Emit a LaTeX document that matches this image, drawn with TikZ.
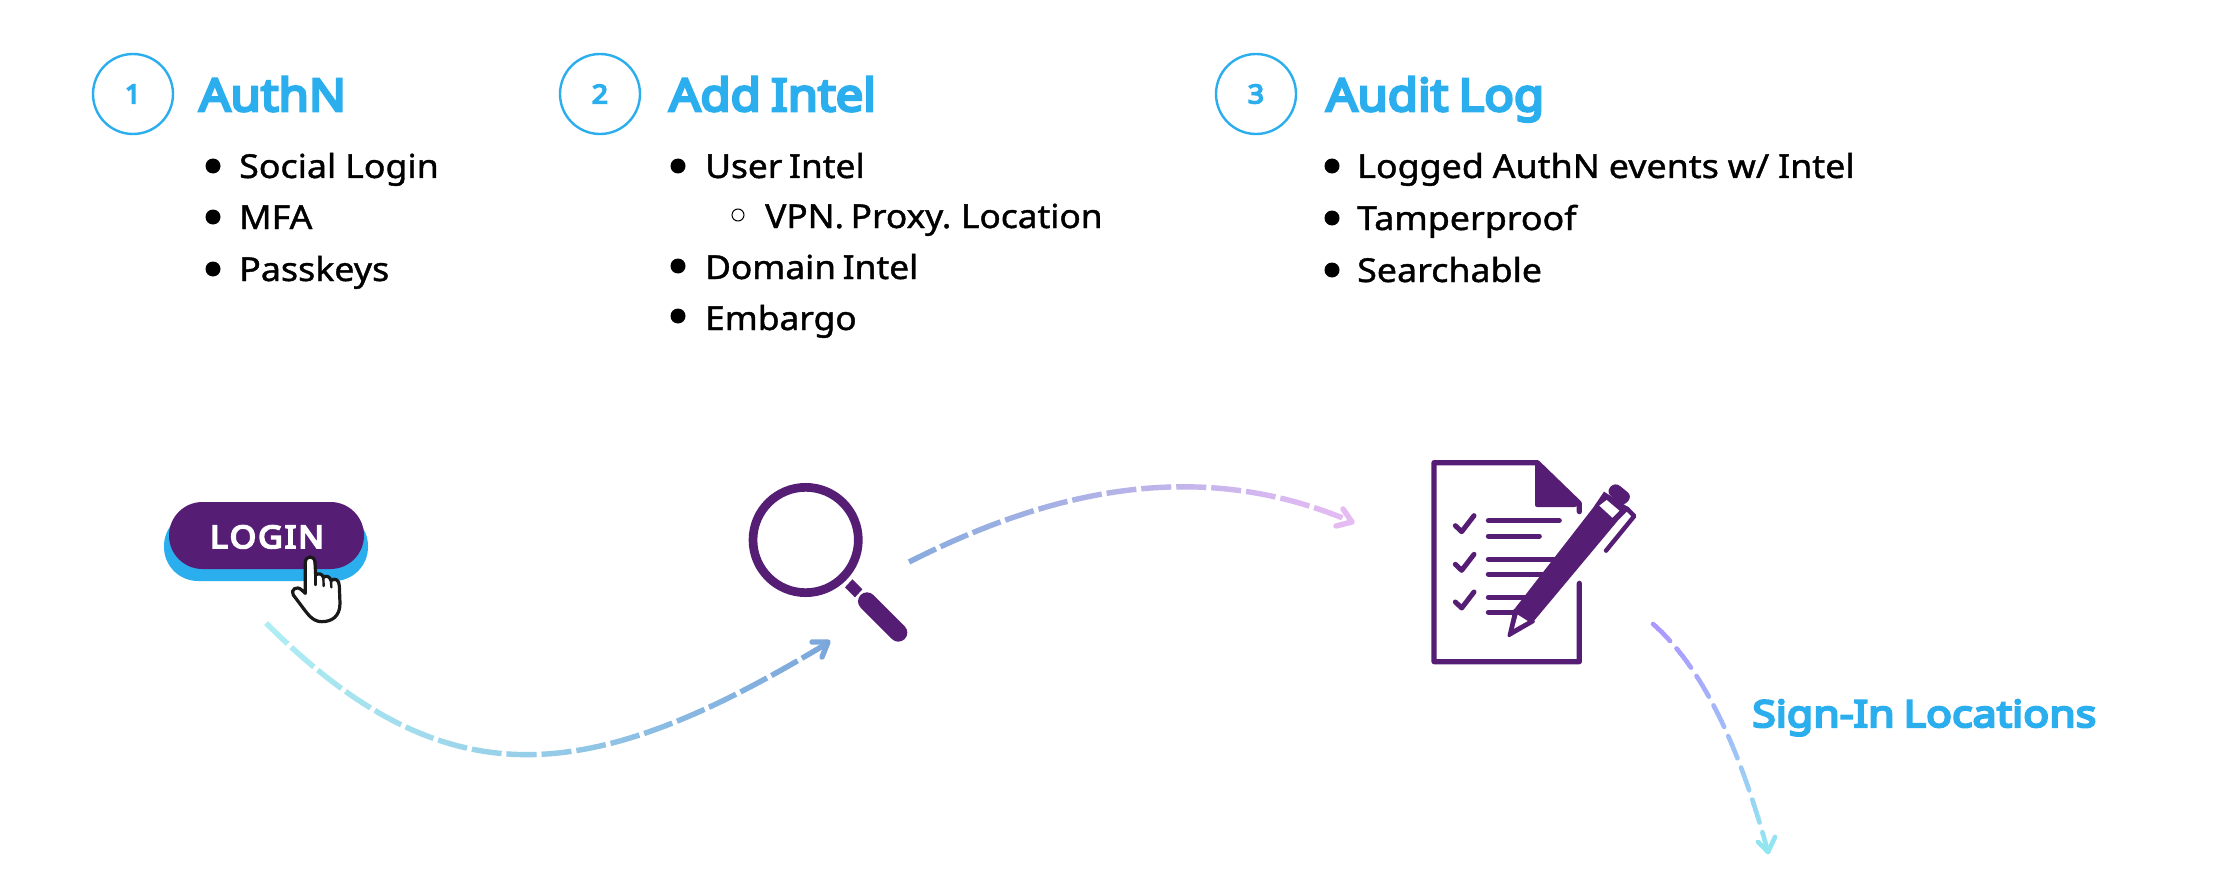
\documentclass[tikz,border=0pt]{standalone}
\usepackage{fontspec}
\setmainfont{Noto Sans}
\newfontfamily\bodyf[FakeStretch=1.085,FakeBold=1.2,WordSpace=0.95]{Noto Sans}
\newfontfamily\bodyn[FakeStretch=1.07,FakeBold=1.2,WordSpace=0.72]{Noto Sans}
\newfontfamily\titlef[FakeStretch=1.09,FakeBold=6,WordSpace=0.8]{Noto Sans}
\newfontfamily\signf[FakeStretch=1.16,FakeBold=6,WordSpace=0.8]{Noto Sans}
\definecolor{skyb}{RGB}{42,174,238}
\definecolor{purp}{RGB}{86,29,117}
\definecolor{aA}{RGB}{174,238,243}
\definecolor{aB}{RGB}{123,166,219}
\definecolor{bA}{RGB}{136,172,222}
\definecolor{bB}{RGB}{232,187,243}
\definecolor{cA}{RGB}{175,150,255}
\definecolor{cB}{RGB}{145,232,240}
\tikzset{
  x=1pt,y=-1pt,
  numcircle/.style={circle,draw=skyb,line width=2.4pt,minimum size=80pt,inner sep=0pt,text=skyb,font=\titlef\fontsize{26}{26}\selectfont},
  titletext/.style={anchor=base west,inner sep=0pt,text=skyb,font=\titlef\fontsize{45}{45}\selectfont},
  bodytext/.style={anchor=base west,inner sep=0pt,text=black,font=\bodyf\fontsize{33}{33}\selectfont},
  bodytight/.style={anchor=base west,inner sep=0pt,text=black,font=\bodyn\fontsize{33}{33}\selectfont},
  dot/.style={circle,fill=black,inner sep=0pt,minimum size=15pt},
  subdot/.style={circle,draw=black,fill=white,line width=1pt,inner sep=0pt,minimum size=12pt},
  iconline/.style={draw=purp,line width=5pt,line cap=round,line join=round},
}
\begin{document}
\begin{tikzpicture}
\useasboundingbox (0,0) rectangle (2233,888);
\fill[white] (0,0) rectangle (2233,888);

% --- column 1
\node[numcircle] (n1) at (133,94) {1};
\node[titletext] (t1) at (199,111) {AuthN};
\node[dot] (d11) at (213,166) {};
\node[bodytext] (b11) at (239,178) {Social Login};
\node[dot] (d12) at (213,217) {};
\node[bodytext] (b12) at (239,229) {MFA};
\node[dot] (d13) at (213,269) {};
\node[bodytext] (b13) at (239,281) {Passkeys};

% --- column 2
\node[numcircle] (n2) at (600,94) {2};
\node[titletext] (t2) at (669,111) {Add Intel};
\node[dot] (d21) at (678,166) {};
\node[bodytight] (b21) at (705,178) {User Intel};
\node[subdot] (d22) at (738,215) {};
\node[bodytight] (b22) at (765,228) {VPN. Proxy. Location};
\node[dot] (d23) at (678,266) {};
\node[bodytight] (b23) at (705,279) {Domain Intel};
\node[dot] (d24) at (678,316) {};
\node[bodytight] (b24) at (705,330) {Embargo};

% --- column 3
\node[numcircle] (n3) at (1256,94) {3};
\node[titletext] (t3) at (1326,111) {Audit Log};
\node[dot] (d31) at (1332,166) {};
\node[bodytext] (b31) at (1357,178) {Logged AuthN events w/ Intel};
\node[dot] (d32) at (1332,218) {};
\node[bodytext] (b32) at (1357,230) {Tamperproof};
\node[dot] (d33) at (1332,270) {};
\node[bodytext] (b33) at (1357,282) {Searchable};

\node[anchor=base west,inner sep=0pt,text=skyb,font=\signf\fontsize{37}{37}\selectfont] (sign) at (1752,727) {Sign-In Locations};

% --- login button
\fill[skyb,rounded corners=34pt] (164,512) rectangle (368,581);
\fill[purp,rounded corners=33.5pt] (169,502) rectangle (364,569);
\node[anchor=base,inner sep=0pt,text=white,font=\titlef\fontsize{31}{31}\selectfont] (login) at (267,548) {L\kern2ptO\kern2ptG\kern2ptI\kern2ptN};
\begin{scope}[shift={(120,460)},scale=1/3]
  \draw[fill=white,draw=black!90,line width=3.2pt,line join=round,line cap=round]
    (556,400) -- (556,308) .. controls (556,285) and (585,285) .. (585,308)
    -- (587,345) .. controls (595,338) and (608,342) .. (610,352)
    .. controls (620,345) and (630,350) .. (633,362)
    .. controls (645,352) and (658,360) .. (658,378)
    -- (660,430) .. controls (660,470) and (635,485) .. (605,485)
    .. controls (580,485) and (565,465) .. (550,445)
    -- (520,405) .. controls (510,390) and (530,375) .. (545,390) -- cycle;
  \draw[draw=black!90,line width=2.4pt,line cap=round] (587,345) -- (587,375);
  \draw[draw=black!90,line width=2.4pt,line cap=round] (610,352) -- (611,378);
  \draw[draw=black!90,line width=2.4pt,line cap=round] (633,362) -- (634,382);
\end{scope}

% --- magnifier
\begin{scope}[shift={(720,460)},scale=1/3]
  \draw[purp,line width=8.7pt] (257,240) circle (158);
  \fill[purp] (397,358) -- (427,388) -- (405,412) -- (375,382) -- cycle;
  \draw[purp,line width=18pt,line cap=round] (441,424) -- (535,518);
\end{scope}

% --- document with pen
\begin{scope}[shift={(1400,440)},scale=1/3]
  \draw[iconline,line width=5.2pt] (538,430) -- (538,665) -- (102,665) -- (102,68) -- (412,68) -- (538,190) -- (538,215);
  \fill[purp,rounded corners=2pt] (405,68) -- (414,68) -- (544,190) -- (530,201) -- (405,201) -- cycle;
  \foreach \d in {0,116,229}{
    \draw[iconline] (166,{257+\d}) -- (185,{275+\d}) -- (222,{227+\d});
  }
  \draw[iconline] (265,242) -- (478,242);
  \draw[iconline] (265,288) -- (418,288);
  \draw[iconline] (265,357) -- (470,357);
  \draw[iconline] (265,402) -- (440,402);
  \draw[iconline] (265,472) -- (385,472);
  \draw[iconline] (265,517) -- (355,517);
  % pen
  \fill[purp,line join=round] (345,505) -- (578,205) -- (612,155) -- (690,205) -- (655,240) -- (400,545) -- cycle;
  \fill[purp,rounded corners=6pt] (618,155) -- (645,126) -- (697,168) -- (670,200) -- cycle;
  \fill[white] (598,197) -- (620,180) -- (658,212) -- (637,233) -- cycle;
  \draw[iconline,line width=4.4pt] (668,208) -- (680,205) -- (703,228) -- (618,332);
  \draw[iconline,fill=purp,line width=3pt] (345,510) -- (327,587) -- (400,545) -- cycle;
  \fill[white] (353,524) -- (342,566) -- (383,543) -- cycle;
\end{scope}

% --- arrows (colour graded across slices)
\coordinate (a1s) at (266,623);
\coordinate (a1p) at (448,805);
\coordinate (a1q) at (592,785);
\coordinate (a1e) at (826,644);
\coordinate (a1w) at (812,642);
\coordinate (a1v) at (822,657);
\coordinate (a1t) at (828,642);
\foreach \i in {0,...,39}{
  \pgfmathsetmacro\mx{100-\i*100/39}
  \colorlet{cc}{aA!\mx!aB}
  \begin{scope}
    \clip ({260+\i*14.5},600) rectangle ({260+(\i+1)*14.5+0.6},780);
    \draw[cc,line width=5.4pt,dash pattern=on 30pt off 5pt] (a1s) .. controls (a1p) and (a1q) .. (a1e);
    \draw[cc,line width=5.4pt,line cap=round,line join=round] (a1w) -- (a1t) -- (a1v);
  \end{scope}
}
\coordinate (a2s) at (909,562);
\coordinate (a2p) at (1060,485.5);
\coordinate (a2q) at (1205,459.6);
\coordinate (a2e) at (1350,521);
\coordinate (a2w) at (1343,509);
\coordinate (a2v) at (1336,526);
\coordinate (a2t) at (1352,522);
\foreach \i in {0,...,39}{
  \pgfmathsetmacro\mx{100-\i*100/39}
  \colorlet{cc}{bA!\mx!bB}
  \begin{scope}
    \clip ({905+\i*11.5},470) rectangle ({905+(\i+1)*11.5+0.6},575);
    \draw[cc,line width=5.4pt,dash pattern=on 30pt off 5pt] (a2s) .. controls (a2p) and (a2q) .. (a2e);
    \draw[cc,line width=5.4pt,line cap=round,line join=round] (a2w) -- (a2t) -- (a2v);
  \end{scope}
}
\coordinate (a3s) at (1653,624);
\coordinate (a3p) at (1712,676);
\coordinate (a3q) at (1746,772);
\coordinate (a3e) at (1768,852);
\coordinate (a3w) at (1758,842);
\coordinate (a3v) at (1775,837);
\foreach \i in {0,...,39}{
  \pgfmathsetmacro\mx{100-\i*100/39}
  \colorlet{cc}{cA!\mx!cB}
  \begin{scope}
    \clip (1640,{618+\i*6}) rectangle (1790,{618+(\i+1)*6+0.6});
    \draw[cc,line width=4.6pt,line cap=round,dash pattern=on 24pt off 10pt] (a3s) .. controls (a3p) and (a3q) .. (a3e);
    \draw[cc,line width=4.6pt,line cap=round,line join=round] (a3w) -- (a3e) -- (a3v);
  \end{scope}
}
\end{tikzpicture}
\end{document}
